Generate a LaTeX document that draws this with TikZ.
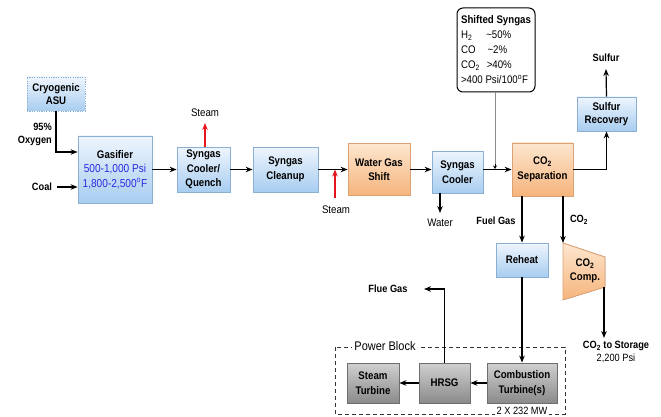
\documentclass[tikz,border=0pt]{standalone}
\usepackage{fontspec}
\setmainfont[FakeStretch=0.88]{Liberation Sans}
\usetikzlibrary{arrows.meta,calc}
\definecolor{bluetop}{HTML}{EEF5FD}
\definecolor{bluebot}{HTML}{A8CDF0}
\definecolor{blueedge}{HTML}{8AAFD2}
\definecolor{orgtop}{HTML}{FDE6CF}
\definecolor{orgbot}{HTML}{F6B47C}
\definecolor{orgedge}{HTML}{DCA275}
\definecolor{graytop}{HTML}{D0D0D0}
\definecolor{graybot}{HTML}{8A8A8A}
\definecolor{grayedge}{HTML}{6E6E6E}
\definecolor{txtblue}{HTML}{2B2BE0}
\definecolor{steamred}{HTML}{E8141C}
\tikzset{
  every node/.style={font=\fontsize{11}{14.5}\selectfont\bfseries, inner sep=1pt, align=center},
  bluebox/.style={draw=blueedge, line width=0.8pt, top color=bluetop, bottom color=bluebot, minimum width=#1},
  orgbox/.style={draw=orgedge, line width=0.8pt, top color=orgtop, bottom color=orgbot, minimum width=#1},
  graybox/.style={draw=grayedge, line width=0.8pt, top color=graytop, bottom color=graybot, minimum width=#1},
  flow/.style={line width=1.2pt, -{Stealth[length=7pt,width=5.5pt]}},
  steamflow/.style={line width=1.2pt, draw=steamred, -{Stealth[length=7pt,width=5.5pt]}},
  plain/.style={font=\fontsize{11}{13}\selectfont},
  lbl/.style={font=\fontsize{10.5}{13}\selectfont\bfseries},
}
\begin{document}
\begin{tikzpicture}[x=1pt,y=-1pt]
\useasboundingbox (0,0) rectangle (661,417);

% process blocks
\node[bluebox=58pt, minimum height=34pt, draw=blueedge, dash pattern=on 1.2pt off 1.2pt, font=\fontsize{11}{13}\selectfont\bfseries] (asu) at (56,94) {Cryogenic\\ASU};
\node[bluebox=74pt, minimum height=67pt, font=\fontsize{11}{14.5}\selectfont] (gas) at (115,169.5) {\textbf{Gasifier}\\\textcolor{txtblue}{\fontsize{11.5}{14.5}\selectfont 500-1,000 Psi}\\\textcolor{txtblue}{\fontsize{11.5}{14.5}\selectfont 1,800-2,500\textsuperscript{o}F}};
\node[bluebox=53pt, minimum height=45pt] (cool) at (203.5,169.5) {Syngas\\Cooler/\\Quench};
\node[bluebox=65pt, minimum height=45pt] (clean) at (285.5,169.5) {Syngas\\Cleanup};
\node[orgbox=62pt, minimum height=52pt] (wgs) at (379,169.5) {Water Gas\\Shift};
\node[bluebox=51pt, minimum height=42pt] (scool) at (457.5,172) {Syngas\\Cooler};
\node[orgbox=61pt, minimum height=53pt] (sep) at (542.5,169.5) {CO\textsubscript{2}\\Separation};
\node[bluebox=59pt, minimum height=34pt, font=\fontsize{11}{13.5}\selectfont\bfseries] (srec) at (606.5,114) {Sulfur\\Recovery};
\node[bluebox=52pt, minimum height=34pt] (reheat) at (522,260) {Reheat};
\node[graybox=70pt, minimum height=40pt] (ct) at (522,383) {Combustion\\Turbine(s)};
\node[graybox=51pt, minimum height=40pt] (hrsg) at (444.5,383) {HRSG};
\node[graybox=52pt, minimum height=40pt] (st) at (373,383) {Steam\\Turbine};

% shifted syngas callout
\node[draw=black, line width=1pt, rounded corners=6pt, fill=white, minimum width=78pt, minimum height=84pt, inner sep=2pt, align=left, font=\fontsize{11}{15}\selectfont] (shift) at (496,50)
 {\textbf{Shifted Syngas}\\
  H\textsubscript{2}\hspace{14pt}\makebox[0pt][l]{\textasciitilde 50\%}\\
  CO\hspace{12pt}\makebox[0pt][l]{\textasciitilde 2\%}\\
  CO\textsubscript{2}\hspace{7pt}\makebox[0pt][l]{>40\%}\\
  >400 Psi/100\textsuperscript{o}F};

% compressor
\coordinate (c1) at (563,243);
\coordinate (c2) at (605,257);
\coordinate (c3) at (605,287);
\coordinate (c4) at (563,300);
\filldraw[draw=orgedge, line width=0.8pt, top color=orgtop, bottom color=orgbot] (c1) -- (c2) -- (c3) -- (c4) -- cycle;
\node (comp) at (585,271) {CO\textsubscript{2}\\Comp.};

% power block
\draw[line width=0.9pt, dash pattern=on 4pt off 3pt, draw=black!80] (335,347) rectangle (565,414);
\node[fill=white, font=\fontsize{12.5}{14}\selectfont, inner sep=2pt] (pb) at (385,346) {Power Block};
\node[plain, font=\fontsize{10.5}{12}\selectfont, fill=white, inner sep=1.5pt] (mw) at (522,411) {2 X 232 MW};

% labels
\node[lbl, anchor=east, align=right] (oxy) at (53,134) {95\%\\Oxygen};
\node[lbl] (coal) at (42,187) {Coal};
\node[plain] (steam1) at (205,113) {Steam};
\node[plain] (steam2) at (336,210) {Steam};
\node[plain] (water) at (440,223) {Water};
\node[lbl] (sulfur) at (606,58) {Sulfur};
\node[lbl] (fuel) at (496,221) {Fuel Gas};
\node[lbl] (co2l) at (579,220) {CO\textsubscript{2}};
\node[lbl] (stor) at (616,352) {CO\textsubscript{2} to Storage\\\textmd{2,200 Psi}};
\node[lbl] (flue) at (388,289) {Flue Gas};

% coordinates for free ends
\coordinate (coalstart) at (57,187);
\coordinate (s1end) at (205,123);
\coordinate (s2start) at (335,198);
\coordinate (wend) at (440,213);
\coordinate (sulfend) at (606,69);
\coordinate (storend) at (604,338);
\coordinate (flueend) at (424,289);

% connectors
\draw[flow] (asu.south) |- ($(gas.west)+(0,-17.5)$);
\draw[flow] (coalstart) -- (coalstart -| gas.west);
\draw[flow] (gas.east) -- (cool.west);
\draw[flow] (cool.east) -- (clean.west);
\draw[flow] (clean.east) -- (wgs.west);
\draw[flow] (wgs.east) -- (wgs.east -| scool.west);
\draw[flow] (scool.east |- sep.west) -- (sep.west);
\draw[steamflow] (cool.north -| s1end) -- (s1end);
\draw[steamflow] (s2start) -- (s2start |- clean.east);
\draw[flow] (scool.south -| wend) -- (wend);
\draw[line width=1pt, draw=black!45] (shift.south -| 495,0) -- (495,166);
\draw[line width=0.8pt, -{Stealth[length=3.5pt,width=4pt]}] (495,164) -- (495,169);
\draw[flow] (sep.east) -| (srec.south);
\draw[flow] (srec.north) -- (sulfend);
\draw[flow] (reheat.north |- sep.south) -- (reheat.north);
\draw[flow] (c1 |- sep.south) -- (c1);
\draw[flow] ($(c3)+(-1,0)$) -- (storend);
\draw[flow] (reheat.south) -- (ct.north);
\draw[flow] (ct.west) -- (hrsg.east);
\draw[flow] (hrsg.west) -- (st.east);
\draw[flow] (hrsg.north) |- (flueend);
\end{tikzpicture}
\end{document}
